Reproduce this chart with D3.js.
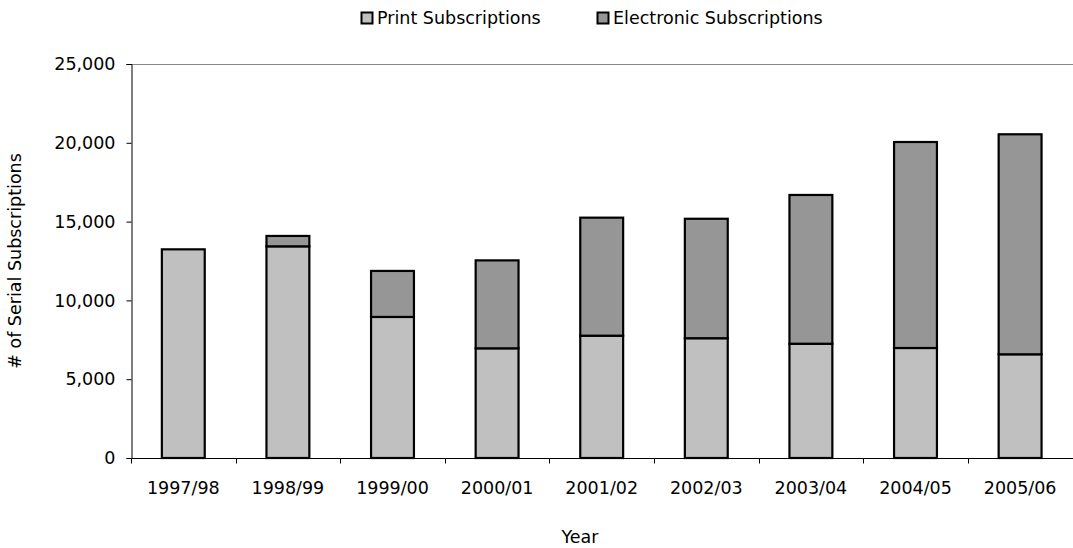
<!DOCTYPE html>
<html>
<head>
<meta charset="utf-8">
<script src="https://cdn.jsdelivr.net/npm/d3@7"></script>
<style>
  html, body { margin: 0; padding: 0; background: #fff; }
  svg { display: block; }
  text { font-family: "DejaVu Sans", Verdana, sans-serif; fill: #000; font-size: 17.5px; }
</style>
</head>
<body>
<svg id="chart" width="1073" height="548"></svg>
<script>
// Serial subscriptions by fiscal year
const years = ["1997/98", "1998/99", "1999/00", "2000/01", "2001/02", "2002/03", "2003/04", "2004/05", "2005/06"];
const printSubs = [13240, 13430, 8950, 6960, 7760, 7600, 7250, 6980, 6580];
const electronicSubs = [0, 660, 2920, 5580, 7490, 7580, 9440, 13070, 13960];
const yTicks = [0, 5000, 10000, 15000, 20000, 25000];
const seriesNames = ["Print Subscriptions", "Electronic Subscriptions"];
const seriesColors = ["#C0C0C0", "#969696"];

const svg = d3.select("#chart");
const margin = { left: 131, right: 0, top: 64, bottom: 90 };
const W = 1073, H = 548;

const x = d3.scaleBand()
  .domain(years)
  .range([margin.left, margin.left + 9 * 104.6])
  .paddingInner(0.59)
  .paddingOuter(0.295);

const y = d3.scaleLinear()
  .domain([0, 25000])
  .range([H - margin.bottom, margin.top]);

const rows = years.map((yr, i) => ({ year: yr, print: printSubs[i], electronic: electronicSubs[i] }));
const stacked = d3.stack().keys(["print", "electronic"])(rows);

// plot frame top edge
svg.append("line")
  .attr("x1", margin.left).attr("x2", W)
  .attr("y1", y(25000) + 0.5).attr("y2", y(25000) + 0.5)
  .attr("stroke", "#888").attr("stroke-width", 1.2);

// stacked bars
svg.append("g").selectAll("g")
  .data(stacked)
  .join("g")
  .attr("fill", (d, i) => seriesColors[i])
  .selectAll("rect")
  .data(d => d.filter(s => s[1] - s[0] > 0))
  .join("rect")
  .attr("x", d => x(d.data.year))
  .attr("width", x.bandwidth())
  .attr("y", d => y(d[1]))
  .attr("height", d => y(d[0]) - y(d[1]))
  .attr("stroke", "#000")
  .attr("stroke-width", 2.2);

// y axis
svg.append("g")
  .attr("transform", `translate(${margin.left + 0.5},0)`)
  .call(d3.axisLeft(y).tickValues(yTicks).tickSize(5).tickPadding(11).tickFormat(d3.format(",")))
  .call(g => g.selectAll("text").style("font-size", "17.5px").style("font-family", null));

// x axis
const xAxisG = svg.append("g")
  .attr("transform", `translate(0,${y(0) + 0.5})`)
  .call(d3.axisBottom(x).tickSize(0).tickPadding(23));
xAxisG.select(".domain").attr("d", `M${margin.left},0H${W}`);
xAxisG.selectAll("text").style("font-size", "17.5px").style("font-family", null);
// category separators
xAxisG.selectAll(".sep")
  .data(years)
  .join("line")
  .attr("class", "sep")
  .attr("x1", d => Math.round(x(d) - x.step() * x.paddingOuter()) + 0.5)
  .attr("x2", d => Math.round(x(d) - x.step() * x.paddingOuter()) + 0.5)
  .attr("y1", 0).attr("y2", 5)
  .attr("stroke", "#000");

svg.selectAll(".domain").attr("stroke", "#000");

// axis titles
svg.append("text")
  .attr("transform", `translate(21,${(y(0) + y(25000)) / 2}) rotate(-90)`)
  .attr("text-anchor", "middle")
  .text("# of Serial Subscriptions");

svg.append("text")
  .attr("x", 580).attr("y", 543)
  .attr("text-anchor", "middle")
  .text("Year");

// legend
const legendX = [361, 597];
const legend = svg.append("g").selectAll("g")
  .data(seriesNames)
  .join("g")
  .attr("transform", (d, i) => `translate(${legendX[i]},0)`);
legend.append("rect")
  .attr("x", 0.5).attr("y", 12.5)
  .attr("width", 11).attr("height", 11)
  .attr("fill", (d, i) => seriesColors[i])
  .attr("stroke", "#000").attr("stroke-width", 2);
legend.append("text")
  .attr("x", 16).attr("y", 24)
  .text(d => d);
</script>
</body>
</html>
